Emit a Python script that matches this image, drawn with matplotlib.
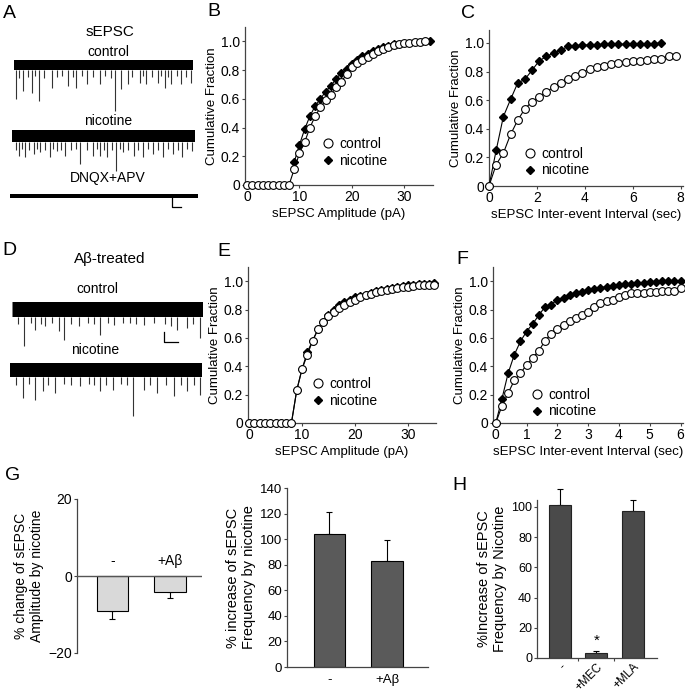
import numpy as np
import matplotlib.pyplot as plt
from matplotlib.lines import Line2D

plt.rcParams['font.family'] = ['Liberation Sans', 'DejaVu Sans']

# ---- traces (event times in s, amplitudes in pA) ----
a_ctl_t = [0.11, 0.3, 0.52, 0.8, 0.99, 1.2, 1.39, 1.7, 2.1, 2.4, 2.7, 3.03, 3.3, 3.49, 3.8,
           4.09, 4.4, 4.8, 5.1, 5.4, 5.63, 6.0, 6.38, 6.6, 7.03, 7.2, 7.4, 7.7, 8.05, 8.2,
           8.46, 8.6, 8.79, 9.1, 9.35, 9.6, 9.91]
a_ctl_amp = [68, 26, 52, 24, 56, 22, 72, 26, 46, 24, 22, 42, 24, 46, 22,
             38, 24, 38, 22, 26, 92, 48, 38, 24, 36, 22, 38, 24, 36, 22,
             46, 24, 38, 22, 38, 24, 36]
a_nic_t = [0.2, 0.36, 0.55, 0.73, 0.95, 1.18, 1.35, 1.55, 1.8, 2.09, 2.25, 2.45, 2.7, 2.91,
           3.2, 3.5, 3.73, 4.1, 4.45, 4.65, 4.82, 5.0, 5.18, 5.45, 5.69, 5.9, 6.09, 6.35,
           6.64, 6.9, 7.18, 7.45, 7.73, 8.0, 8.27, 8.55, 8.82, 9.05, 9.27, 9.55, 9.82]
a_nic_amp = [28, 39, 26, 41, 28, 35, 26, 31, 28, 41, 26, 29, 28, 39,
             28, 26, 55, 28, 39, 26, 39, 28, 41, 28, 69, 26, 31, 28,
             39, 28, 41, 26, 35, 28, 41, 26, 35, 28, 41, 26, 29]
d_ctl_t = [0.3, 0.65, 1.0, 1.22, 1.5, 1.75, 2.1, 2.44, 2.71, 3.1, 3.49, 4.0, 4.3, 4.62,
           5.0, 5.32, 5.8, 6.2, 6.5, 6.89, 7.42, 8.0, 8.3, 8.64, 9.16, 9.5, 9.86]
d_ctl_amp = [30, 74, 28, 42, 30, 34, 28, 44, 62, 30, 34, 28, 30, 52,
             28, 32, 28, 28, 30, 32, 28, 30, 34, 42, 38, 30, 58]
d_nic_t = [0.3, 0.66, 1.0, 1.3, 1.74, 2.0, 2.35, 2.8, 3.2, 3.65, 4.1, 4.4, 4.7, 5.0,
           5.39, 5.8, 6.1, 6.43, 6.96, 7.3, 7.65, 8.1, 8.52, 8.9, 9.22, 9.6, 9.91]
d_nic_amp = [30, 56, 28, 60, 42, 30, 46, 28, 30, 32, 28, 30, 42, 30,
             40, 28, 30, 92, 40, 30, 46, 30, 52, 30, 42, 30, 50]
scale_t, scale_pA = 0.5, 20

# ---- cumulative distributions ----
b_x = list(range(0, 35))
b_ctl = [0, 0, 0, 0, 0, 0, 0, 0, 0, 0.11, 0.22, 0.30, 0.40, 0.48, 0.54, 0.59, 0.63, 0.68,
         0.72, 0.77, 0.82, 0.85, 0.87, 0.89, 0.91, 0.93, 0.95, 0.96, 0.975, 0.985, 0.99,
         0.99, 0.995, 0.995, 1.0]
b_nic_x = list(range(9, 29)) + [35]
b_nic = [0.16, 0.28, 0.39, 0.48, 0.55, 0.60, 0.65, 0.69, 0.74, 0.78, 0.81, 0.84, 0.87,
         0.895, 0.91, 0.93, 0.945, 0.96, 0.97, 0.98, 1.0]

c_ctl_x = [round(0.3 * i, 1) for i in range(27)]
c_ctl = [0, 0.15, 0.23, 0.36, 0.46, 0.54, 0.59, 0.62, 0.66, 0.69, 0.72, 0.745, 0.77,
         0.79, 0.82, 0.83, 0.84, 0.855, 0.86, 0.865, 0.87, 0.875, 0.88, 0.885, 0.89,
         0.905, 0.905]
c_nic_x = [round(0.3 * i, 1) for i in range(25)]
c_nic = [0, 0.25, 0.485, 0.605, 0.72, 0.745, 0.81, 0.875, 0.905, 0.93, 0.95, 0.975,
         0.98, 0.985, 0.985, 0.985, 0.99, 0.99, 0.99, 0.99, 0.995, 0.995, 0.995, 0.995, 1.0]

e_x = list(range(0, 36))
e_ctl = [0, 0, 0, 0, 0, 0, 0, 0, 0, 0.23, 0.38, 0.48, 0.58, 0.66, 0.71, 0.755, 0.78,
         0.81, 0.83, 0.85, 0.87, 0.89, 0.90, 0.91, 0.927, 0.934, 0.939, 0.946, 0.95,
         0.958, 0.962, 0.967, 0.974, 0.974, 0.976, 0.976]
e_nic = [0, 0, 0, 0, 0, 0, 0, 0, 0, 0.23, 0.38, 0.50, 0.58, 0.66, 0.71, 0.76, 0.80,
         0.83, 0.855, 0.87, 0.885, 0.895, 0.905, 0.915, 0.93, 0.94, 0.945, 0.952, 0.958,
         0.963, 0.97, 0.975, 0.978, 0.98, 0.982, 0.985]

f_x = [round(0.2 * i, 1) for i in range(31)]
f_ctl = [0, 0.12, 0.21, 0.30, 0.35, 0.41, 0.46, 0.51, 0.58, 0.63, 0.66, 0.69, 0.72,
         0.74, 0.76, 0.78, 0.82, 0.845, 0.86, 0.87, 0.89, 0.905, 0.915, 0.918, 0.918,
         0.922, 0.927, 0.93, 0.93, 0.934, 0.953]
f_nic = [0, 0.17, 0.35, 0.48, 0.575, 0.645, 0.70, 0.76, 0.82, 0.835, 0.87, 0.883,
         0.905, 0.915, 0.927, 0.94, 0.946, 0.953, 0.962, 0.965, 0.974, 0.98, 0.98,
         0.986, 0.988, 0.993, 0.993, 0.998, 0.998, 0.998, 1.0]

# ---- bar charts ----
g1_labels = ['-', '+Aβ']
g1_mean = [-9.2, -4.1]
g1_sem = [1.9, 1.5]
g2_labels = ['-', '+Aβ']
g2_mean = [104, 83]
g2_sem = [17, 16]
h_labels = ['-', '+MEC', '+MLA']
h_mean = [101, 3.3, 97]
h_sem = [11, 1.3, 7.5]

W, H = 685, 699
fig = plt.figure(figsize=(W / 100, H / 100), dpi=100)


def px_axes(x0, y0, x1, y1):
    return fig.add_axes([x0 / W, 1 - y1 / H, (x1 - x0) / W, (y1 - y0) / H])


def fig_text(x, y, s, **kw):
    fig.text(x / W, 1 - y / H, s, ha='center', va='center', **kw)


# ---- raw traces (2 pA per pixel) ----
def draw_trace(x0, x1, ybase, times, amps, band=10):
    ax = px_axes(x0, ybase - 15, x1, ybase + 50)
    ax.set_xlim(0, 10)
    ax.set_ylim(-100, 30)
    ax.axis('off')
    ax.plot([0, 10], [0, 0], color='black', lw=band * 0.72, solid_capstyle='butt')
    if times:
        ax.vlines(times, -band, [-a for a in amps], color='#333333', lw=0.8)
    return ax


draw_trace(14, 193, 65, a_ctl_t, a_ctl_amp, band=10)
draw_trace(12, 195, 136, a_nic_t, a_nic_amp, band=12)
ax_dn = draw_trace(10, 198, 196, [], [], band=4)
ax_dn.plot([8.62, 8.62, 8.62 + scale_t], [-2, -2 - scale_pA, -2 - scale_pA],
           color='black', lw=0.9)
ax_dc = draw_trace(12, 203, 309, d_ctl_t, d_ctl_amp, band=15)
ax_dc.plot([7.96, 7.96, 7.96 + 0.75], [-46, -46 - scale_pA, -46 - scale_pA],
           color='black', lw=0.9)
draw_trace(10, 202, 370, d_nic_t, d_nic_amp, band=14)

fig_text(110, 32, 'sEPSC', fontsize=11)
fig_text(108, 52, 'control', fontsize=10)
fig_text(108, 121, 'nicotine', fontsize=10)
fig_text(108, 178, 'DNQX+APV', fontsize=10)
fig_text(110, 259, 'Aβ-treated', fontsize=11)
fig_text(97, 289, 'control', fontsize=10)
fig_text(95, 350, 'nicotine', fontsize=10)

for letter, (x, y) in {'A': (9, 13), 'B': (214, 12), 'C': (468, 14), 'D': (9, 250),
                       'E': (224, 252), 'F': (462, 260), 'G': (13, 475),
                       'H': (459, 485)}.items():
    fig_text(x, y, letter, fontsize=14)


# ---- cumulative panels ----
def style_axes(ax):
    for s in ['top', 'right']:
        ax.spines[s].set_visible(False)
    for s in ['left', 'bottom']:
        ax.spines[s].set_color('#444444')
        ax.spines[s].set_linewidth(0.9)
    ax.tick_params(length=2.5, width=0.8, color='#444444', labelsize=10, pad=1)


def cum_panel(box, xc, yc, xn, yn, xlim, ylim, xticks, xlabel, leg):
    ax = px_axes(*box)
    ax.plot(xn, yn, '-', color='black', lw=0.8, marker='D', ms=4.2, mfc='black',
            mec='black', clip_on=False, zorder=3)
    ax.plot(xc, yc, '-', color='black', lw=0.8, marker='o', ms=5.6, mfc='white',
            mec='black', mew=0.8, clip_on=False, zorder=4)
    ax.set_xlim(*xlim)
    ax.set_ylim(*ylim)
    ax.set_xticks(xticks)
    ax.set_yticks([0, 0.2, 0.4, 0.6, 0.8, 1.0])
    ax.set_yticklabels(['0', '0.2', '0.4', '0.6', '0.8', '1.0'])
    style_axes(ax)
    ax.set_ylabel('Cumulative Fraction', fontsize=9.5, labelpad=2)
    ax.set_xlabel(xlabel, fontsize=9.5, labelpad=3)
    handles = [Line2D([], [], ls='none', marker='o', ms=6.5, mfc='white', mec='black', mew=0.8),
               Line2D([], [], ls='none', marker='D', ms=4.5, mfc='black', mec='black')]
    ax.legend(handles, ['control', 'nicotine'], loc='center left', bbox_to_anchor=leg,
              frameon=False, fontsize=10, handlelength=1.0, handletextpad=0.3,
              labelspacing=0.2, borderpad=0, borderaxespad=0)
    return ax


cum_panel((245, 27, 433, 185), b_x, b_ctl, b_nic_x, b_nic, (-0.4, 35.5), (0, 1.1),
          [0, 10, 20, 30], 'sEPSC Amplitude (pA)', (0.404, 0.206))
cum_panel((489, 30, 683, 186), c_ctl_x, c_ctl, c_nic_x, c_nic, (0, 8.1), (0, 1.09),
          [0, 2, 4, 6, 8], 'sEPSC Inter-event Interval (sec)', (0.175, 0.154))
cum_panel((248, 267, 436, 423), e_x, e_ctl, e_x, e_nic, (-0.2, 35.3), (0, 1.1),
          [0, 10, 20, 30], 'sEPSC Amplitude (pA)', (0.335, 0.196))
cum_panel((493, 267, 683, 423), f_x, f_ctl, f_x, f_nic, (-0.09, 6.08), (0, 1.1),
          [0, 1, 2, 3, 4, 5, 6], 'sEPSC Inter-event Interval (sec)', (0.195, 0.128))


def err_up_down(ax, pos, mean, lower, upper):
    _, caps, bars = ax.errorbar(pos, mean, yerr=[lower, upper], fmt='none', ecolor='black',
                                elinewidth=0.8, capsize=2.5, capthick=0.8, zorder=1)
    for art in list(caps) + list(bars):
        art.set_clip_on(False)


# ---- G left: amplitude change ----
ax = px_axes(77, 499, 202, 653)
pos = np.arange(len(g1_labels))
ax.bar(pos, g1_mean, width=0.55, color='#d9d9d9', edgecolor='black', lw=0.8, zorder=2)
err_up_down(ax, pos, g1_mean, g1_sem, [0] * len(g1_sem))
ax.axhline(0, color='#555555', lw=1.0, zorder=3)
for p, lab in zip(pos, g1_labels):
    ax.text(p, 2, lab, ha='center', va='bottom', fontsize=10)
ax.set_xlim(-0.617, 1.557)
ax.set_ylim(-20, 20)
ax.set_yticks([-20, 0, 20])
ax.set_xticks([])
style_axes(ax)
ax.spines['bottom'].set_visible(False)
ax.set_ylabel('% change of sEPSC\nAmplitude by nicotine', fontsize=10, labelpad=3)

# ---- G right: frequency increase ----
ax = px_axes(287, 488, 428, 667)
pos = np.arange(len(g2_labels))
ax.bar(pos, g2_mean, width=0.55, color='#5a5a5a', edgecolor='black', lw=0.8, zorder=2)
err_up_down(ax, pos, g2_mean, [0] * len(g2_sem), g2_sem)
ax.set_xlim(-0.733, 1.70)
ax.set_ylim(0, 140)
ax.set_yticks(range(0, 141, 20))
ax.set_xticks(pos)
ax.set_xticklabels(g2_labels)
style_axes(ax)
ax.tick_params(axis='x', length=0, pad=5)
ax.tick_params(labelsize=9.5)
ax.set_ylabel('% increase of sEPSC\nFrequency by nicotine', fontsize=10.5, labelpad=3)

# ---- H: antagonists ----
ax = px_axes(537, 500, 657, 658)
pos = np.arange(len(h_labels))
ax.bar(pos, h_mean, width=0.6, color='#4a4a4a', edgecolor='#222222', lw=0.8, zorder=2)
err_up_down(ax, pos, h_mean, [0] * len(h_sem), h_sem)
ax.text(1, h_mean[1] + h_sem[1] + 2, '*', ha='center', va='bottom', fontsize=11)
ax.set_xlim(-0.63, 2.67)
ax.set_ylim(0, 104.6)
ax.set_yticks(range(0, 101, 20))
ax.set_xticks(pos)
ax.set_xticklabels(h_labels, rotation=45, ha='right', rotation_mode='anchor')
ax.set_xticks([0.5, 1.5], minor=True)
style_axes(ax)
ax.tick_params(axis='x', which='major', length=0, pad=2, labelsize=8.5)
ax.tick_params(axis='x', which='minor', length=2.5, width=0.8, color='#444444')
ax.tick_params(axis='y', labelsize=9)
ax.set_ylabel('%Increase of sEPSC\nFrequency by Nicotine', fontsize=10.5, labelpad=3)

fig.savefig('out.png', dpi=100)
